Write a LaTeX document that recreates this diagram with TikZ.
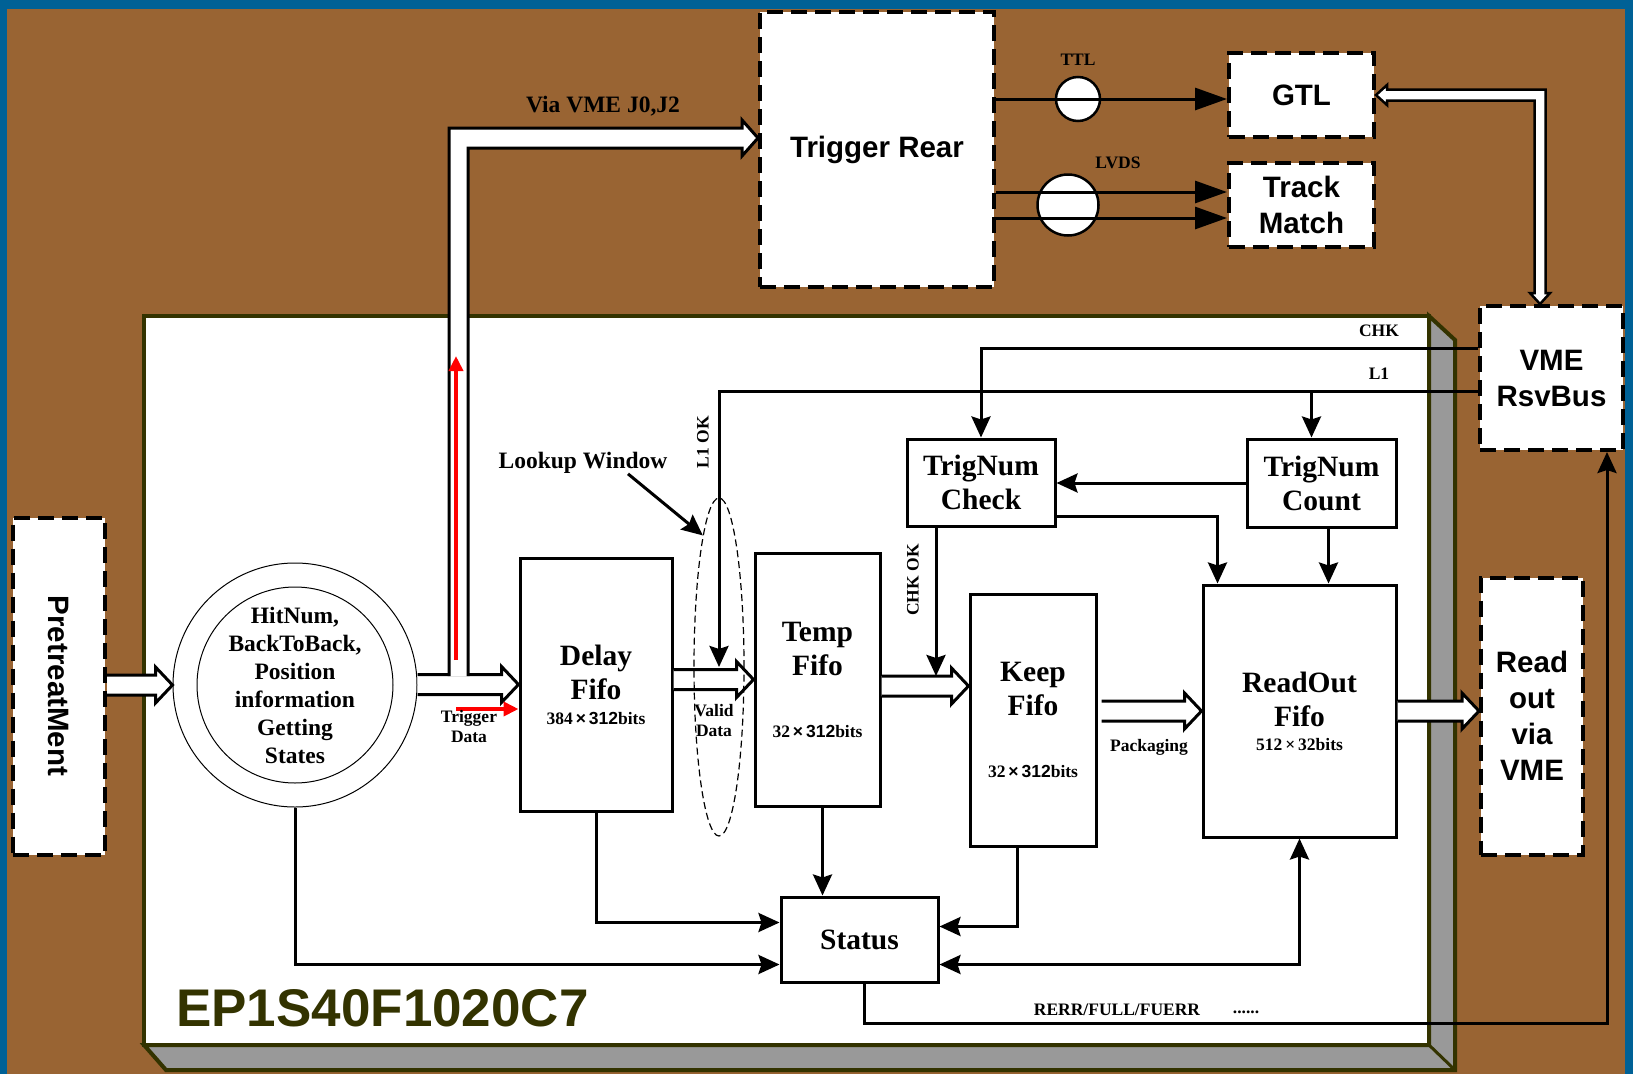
\documentclass[tikz,border=0pt]{standalone}
\usepackage{fontspec}
\setmainfont{Liberation Serif}
\setsansfont{Liberation Sans}
\usepackage{graphicx}
\usepackage{tikz}
\usetikzlibrary{arrows.meta, shapes.geometric, calc}

\definecolor{brownbg}{RGB}{153,100,51}
\definecolor{vmeblue}{RGB}{0,97,150}
\definecolor{olive}{RGB}{51,51,0}
\definecolor{sidegray}{RGB}{153,153,153}

\newcommand{\bigser}{\fontsize{29.5}{34}\selectfont\bfseries}
\newcommand{\midser}{\fontsize{23.5}{28}\selectfont\bfseries}
\newcommand{\smlser}{\fontsize{17.5}{20}\selectfont\bfseries}
\newcommand{\bigsans}{\sffamily\fontsize{29.5}{36}\selectfont\bfseries}

\tikzset{
  fifo/.style={draw, line width=3pt, fill=white, align=center, inner sep=0pt, font=\bigser},
  dbox/.style={draw, line width=4pt, dash pattern=on 16pt off 8pt, fill=white, align=center, inner sep=0pt, font=\bigsans},
  arr/.style={-{Stealth[length=21pt, width=19pt, inset=3pt]}, line width=3pt},
  arrtwo/.style={{Stealth[length=21pt, width=19pt, inset=3pt]}-{Stealth[length=21pt, width=19pt, inset=3pt]}, line width=3pt},
  bigarr/.style={-{Triangle[length=32pt, width=22pt]}, line width=3pt},
  blk/.style={draw, fill=white, line width=3pt},
  lbl/.style={font=\smlser, align=center, inner sep=0pt},
  redarr/.style={-{Triangle[length=15pt, width=14pt]}, line width=4.5pt, red}
}

% hollow block arrow: #1 tail, #2 tip
\newcommand{\blockarrow}[2]{%
  \draw[blk] let \p1=#1, \p2=#2 in
    (\x1,\y2+10pt) -- (\x2-17pt,\y2+10pt) -- (\x2-17pt,\y2+18pt) -- (\x2,\y2)
    -- (\x2-17pt,\y2-18pt) -- (\x2-17pt,\y2-10pt) -- (\x1,\y2-10pt);}

\begin{document}
\begin{tikzpicture}[x=1pt, y=-1pt]
  \useasboundingbox (0,0) rectangle (1633,1074);
  \fill[vmeblue] (0,0) rectangle (1633,1074);
  \fill[brownbg] (7,9) rectangle (1625,1074);

  % chip board
  \filldraw[fill=sidegray, draw=olive, line width=4pt] (1429,316) -- (1455,340) -- (1455,1070) -- (166,1070) -- (144,1045) -- (1429,1045) -- cycle;
  \draw[olive, line width=3pt] (1429,1045) -- (1455,1070);
  \filldraw[fill=white, draw=olive, line width=4pt] (144,316) rectangle (1429,1045);
  \node[font=\sffamily\bfseries\fontsize{53}{60}\selectfont, text=olive, anchor=west, inner sep=0pt] (chipname) at (176,1008) {EP1S40F1020C7};

  % outer boxes
  \node[dbox, minimum width=234, minimum height=275] (trear) at (877,149.5) {Trigger Rear};
  \node[dbox, minimum width=145, minimum height=84] (gtl) at (1301.5,95) {GTL};
  \node[dbox, minimum width=145, minimum height=84] (track) at (1301.5,205) {Track\\Match};
  \node[dbox, minimum width=143, minimum height=144] (vme) at (1551.5,378) {VME\\RsvBus};
  \node[dbox, minimum width=102, minimum height=277] (readvme) at (1532,716) {Read\\out\\via\\VME};
  \node[dbox, minimum width=92, minimum height=337] (pretreat) at (59,686) {\rotatebox{-90}{PretreatMent}};

  % inner blocks
  \node[circle, draw, line width=1pt, fill=white, minimum size=244, inner sep=0pt, font=\midser, align=center] (state) at (295,685) {HitNum,\\BackToBack,\\Position\\information\\Getting\\States};
  \draw[line width=1pt] (state.center) circle (98);
  \node[fifo, minimum width=152, minimum height=253] (delay) at (596,684.5) {Delay\\Fifo\\[-9pt]{\smlser 384\,{\sffamily ×\,312}bits}};
  \node[fifo, minimum width=125, minimum height=253] (temp) at (817.5,679.5) {Temp\\Fifo\\[28pt]{\smlser 32\,{\sffamily ×\,312}bits}};
  \node[fifo, minimum width=126, minimum height=252] (keep) at (1033,720) {Keep\\Fifo\\[28pt]{\smlser 32\,{\sffamily ×\,312}bits}};
  \node[fifo, minimum width=193, minimum height=252] (readout) at (1299.5,711) {ReadOut\\Fifo\\[-10pt]{\smlser 512\,×\,32bits}};
  \node[fifo, minimum width=148, minimum height=87] (check) at (981,482.5) {TrigNum\\Check};
  \node[fifo, minimum width=149, minimum height=88] (count) at (1321.5,483) {TrigNum\\Count};
  \node[fifo, minimum width=157, minimum height=85] (status) at (859.5,939.5) {Status};

  % TTL / LVDS
  \node[circle, draw, fill=white, line width=2.5pt, minimum size=44, inner sep=0pt] (ttl) at (1078,99) {};
  \node[circle, draw, fill=white, line width=2.5pt, minimum size=61, inner sep=0pt] (lvds) at (1068,205) {};
  \coordinate (ttla) at ([yshift=-4pt]gtl.west);
  \coordinate (lvdsa) at ([yshift=13pt]track.west);
  \coordinate (lvdsb) at ([yshift=-13pt]track.west);
  \draw[bigarr] (trear.east |- ttla) -- (ttla);
  \draw[bigarr] (trear.east |- lvdsa) -- (lvdsa);
  \draw[bigarr] (trear.east |- lvdsb) -- (lvdsb);

  % bus between GTL and VME
  \coordinate (bus) at (1540,95);
  \draw[blk, line width=2.5pt] (gtl.east) -- (1387,85) -- (1387,89.5) -- (1545.5,89.5) -- (1545.5,293) -- (1550,293) -- (bus |- vme.north) -- (1530,293) -- (1534.5,293) -- (1534.5,100.5) -- (1387,100.5) -- (1387,105) -- cycle;

  % hollow data arrows
  \blockarrow{(pretreat.east)}{(state.west)}
  \blockarrow{(state.east)}{(delay.west)}
  \coordinate (via) at (449,138);
  \draw[blk] (449,676) -- (449,128) -- (742,128) -- (742,120) -- (trear.west |- via) -- (742,156) -- (742,148) -- (468,148) -- (468,676);
  \blockarrow{(delay.east)}{(temp.west)}
  \coordinate (keepin) at ([yshift=34pt]keep.west);
  \blockarrow{(temp.east)}{(keepin)}
  \blockarrow{([xshift=4pt]keep.east)}{(readout.west)}
  \blockarrow{(readout.east)}{(readvme.west |- readout.east)}

  % lookup window
  \node[draw, ellipse, line width=1.2pt, dash pattern=on 7pt off 4pt, minimum width=50, minimum height=338, inner sep=0pt] (lookup) at (719,667) {};

  % red marks
  \coordinate (redlow) at (456,660);
  \coordinate (redtop) at (456,356);
  \coordinate (redtail) at (456,709);
  \draw[redarr] (redlow) -- (redtop);
  \draw[redarr] (redtail) -- (delay.west |- redtail);

  % labels
  \node[lbl, font=\midser] (vialbl) at (603,106) {Via VME J0,J2};
  \node[lbl] (ttllbl) at (1078,60) {TTL};
  \node[lbl] (lvdslbl) at (1118,163) {LVDS};
  \node[lbl] (chklbl) at (1379,331) {CHK};
  \node[lbl] (l1lbl) at (1379,374) {L1};
  \node[lbl, rotate=90] (l1oklbl) at (703,442) {L1 OK};
  \node[lbl, rotate=90] (chkoklbl) at (913,580) {CHK OK};
  \node[lbl, font=\midser] (lwlbl) at (583,463) {Lookup Window};
  \node[lbl] (trglbl) at (469,727) {Trigger\\Data};
  \node[lbl] (validlbl) at (714,721) {Valid\\Data};
  \node[lbl] (paclbl) at (1149,747) {Packaging};
  \node[lbl] (errlbl) at (1117,1010) {RERR/FULL/FUERR};
  \node[lbl] (dotlbl) at (1246,1012) {......};

  % control lines
  \coordinate (chk) at ([yshift=30pt]vme.west);
  \coordinate (l1) at ([yshift=-13pt]vme.west);
  \draw[arr] (chk) -| (check.north);
  \draw[arr] (l1) -| (lookup.center);
  \coordinate (cnttop) at ([xshift=-10pt]count.north);
  \draw[arr] (cnttop |- l1) -- (cnttop);
  \draw[arr] (count.west) -- (count.west -| check.east);
  \coordinate (chkout) at ([yshift=-34pt]check.east);
  \coordinate (rotop) at ([xshift=-82pt]readout.north);
  \draw[arr] (chkout) -| (rotop);
  \coordinate (cntbot) at ([xshift=7pt]count.south);
  \draw[arr] (cntbot) -- (cntbot |- readout.north);
  \coordinate (chkbot) at ([xshift=-45pt]check.south);
  \coordinate (chkok) at ([yshift=10pt]keepin);
  \draw[arr] (chkbot) -- (chkbot |- chkok);
  \draw[arr] ([xshift=45pt]lwlbl.south) -- (lookup.97);

  % status lines
  \draw[arr] (delay.south) |- ([yshift=17pt]status.west);
  \draw[arr] (state.south) |- ([yshift=-25pt]status.west);
  \coordinate (tempbot) at ([xshift=5pt]temp.south);
  \draw[arr] (tempbot) -- (tempbot |- status.north);
  \coordinate (keepbot) at ([xshift=-16pt]keep.south);
  \draw[arr] (keepbot) |- ([yshift=13pt]status.east);
  \draw[arrtwo] ([yshift=-25pt]status.east) -| (readout.south);
  \coordinate (rerr) at (1607,1023);
  \draw[arr] ([xshift=5pt]status.south) |- (rerr) -- (rerr |- vme.south);
\end{tikzpicture}
\end{document}
